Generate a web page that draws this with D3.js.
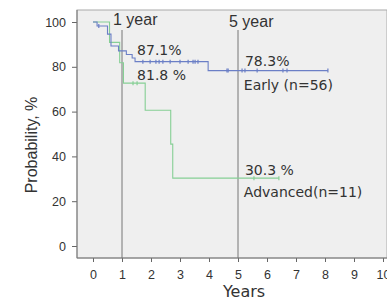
<!DOCTYPE html>
<html>
<head>
<meta charset="utf-8">
<script src="https://cdn.jsdelivr.net/npm/d3@7"></script>
<style>
  body { margin: 0; background: #fff; }
  text { fill: #333; }
</style>
</head>
<body>
<div id="chart"></div>
<script>
// survival steps (years, %)
const earlyTimes = [0, 0.14, 0.5, 0.62, 0.88, 1.15, 1.35, 1.45, 3.97, 8.1];
const earlySurv = [100, 98.2, 94.6, 89.3, 87.1, 85.5, 83.9, 82.3, 78.3, 78.3];
const earlyCensored = [0.2, 1.72, 1.97, 2.17, 2.28, 2.41, 2.66, 3.0, 3.28, 3.45, 3.52, 3.62,
  4.62, 4.66, 5.14, 5.24, 5.66, 6.55, 6.69, 8.1];

const advTimes = [0, 0.57, 0.92, 1.05, 1.8, 2.68, 2.75, 6.41];
const advSurv = [100, 90.9, 81.8, 72.7, 60.6, 45.5, 30.3, 30.3];
const advCensored = [1.38, 1.52, 5.55, 6.41];

const xTicks = [0, 1, 2, 3, 4, 5, 6, 7, 8, 9, 10];
const yTicks = [0, 20, 40, 60, 80, 100];
const markYears = [1, 5];
const markLabels = ['1 year', '5 year'];

const W = 387, H = 301;
const panel = { left: 77, top: 10, right: 387, bottom: 258 };

const x = d3.scaleLinear().domain([0, 10]).range([93, 383]);
const y = d3.scaleLinear().domain([0, 100]).range([246, 22]);

const svg = d3.select('#chart').append('svg')
  .attr('width', W).attr('height', H)
  .style('font-family', 'DejaVu Sans, sans-serif');

// panel
svg.append('rect')
  .attr('x', panel.left).attr('y', panel.top)
  .attr('width', panel.right - panel.left).attr('height', panel.bottom - panel.top)
  .attr('fill', '#efefef').attr('stroke', '#aaa');

// axes
const xAxis = d3.axisBottom(x).tickValues(xTicks).tickSize(4).tickSizeOuter(0);
const gx = svg.append('g').attr('transform', `translate(0,${panel.bottom})`).call(xAxis);
gx.select('.domain').remove();
gx.selectAll('line').attr('stroke', '#666');
gx.selectAll('text').attr('y', 12).attr('font-size', 12.5).attr('fill', '#3a3a3a');

const yAxis = d3.axisLeft(y).tickValues(yTicks).tickSize(5).tickSizeOuter(0);
const gy = svg.append('g').attr('transform', `translate(${panel.left},0)`).call(yAxis);
gy.select('.domain').remove();
gy.selectAll('line').attr('stroke', '#666');
gy.selectAll('text').attr('x', -11).attr('font-size', 12.5).attr('fill', '#3a3a3a');

svg.append('line')
  .attr('x1', panel.left).attr('x2', panel.left)
  .attr('y1', panel.top).attr('y2', panel.bottom)
  .attr('stroke', '#777');
svg.append('line')
  .attr('x1', panel.left).attr('x2', panel.right)
  .attr('y1', panel.bottom).attr('y2', panel.bottom)
  .attr('stroke', '#777');

// 1 and 5 year reference lines
svg.append('g').selectAll('line').data(markYears).enter().append('line')
  .attr('x1', d => x(d)).attr('x2', d => x(d))
  .attr('y1', 30).attr('y2', panel.bottom)
  .attr('stroke', '#777');
svg.append('g').selectAll('text').data(markLabels).enter().append('text')
  .text(d => d)
  .attr('x', (_, i) => x(markYears[i]) - 9)
  .attr('y', (_, i) => 25 + i * 2)
  .attr('font-family', 'Liberation Sans, sans-serif')
  .attr('font-size', 16)
  .attr('fill', '#222');

// curves
const step = d3.line().curve(d3.curveStepAfter).x(d => x(d[0])).y(d => y(d[1]));
function survivalAt(times, surv, t) {
  let v = surv[0];
  times.forEach((tt, i) => { if (tt <= t) v = surv[i]; });
  return v;
}
function drawCurve(times, surv, censored, color) {
  svg.append('path')
    .datum(times.map((t, i) => [t, surv[i]]))
    .attr('d', step)
    .attr('fill', 'none').attr('stroke', color).attr('stroke-width', 1.1);
  svg.append('g').selectAll('line').data(censored).enter().append('line')
    .attr('x1', d => x(d)).attr('x2', d => x(d))
    .attr('y1', d => y(survivalAt(times, surv, d)) - 2)
    .attr('y2', d => y(survivalAt(times, surv, d)) + 2)
    .attr('stroke', color).attr('stroke-width', 1.2);
}
drawCurve(advTimes, advSurv, advCensored, '#86cf95');
drawCurve(earlyTimes, earlySurv, earlyCensored, '#6b7fc6');

// annotations
const notes = [
  { text: '87.1%', t: 1.52, v: 85.3 },
  { text: '81.8 %', t: 1.52, v: 74.2 },
  { text: '78.3%', t: 5.24, v: 80.3 },
  { text: 'Early (n=56)', t: 5.2, v: 69.6 },
  { text: '30.3 %', t: 5.24, v: 31.7 },
  { text: 'Advanced(n=11)', t: 5.2, v: 22 }
];
svg.append('g').selectAll('text').data(notes).enter().append('text')
  .text(d => d.text)
  .attr('x', d => x(d.t)).attr('y', d => y(d.v))
  .attr('font-size', 14);

// axis titles
svg.append('text')
  .text('Years')
  .attr('x', 244).attr('y', 297)
  .attr('text-anchor', 'middle')
  .attr('font-size', 16);
svg.append('text')
  .text('Probability, %')
  .attr('transform', 'translate(37,145) rotate(-90)')
  .attr('text-anchor', 'middle')
  .attr('font-family', 'Liberation Sans, sans-serif')
  .attr('font-size', 16);
</script>
</body>
</html>
